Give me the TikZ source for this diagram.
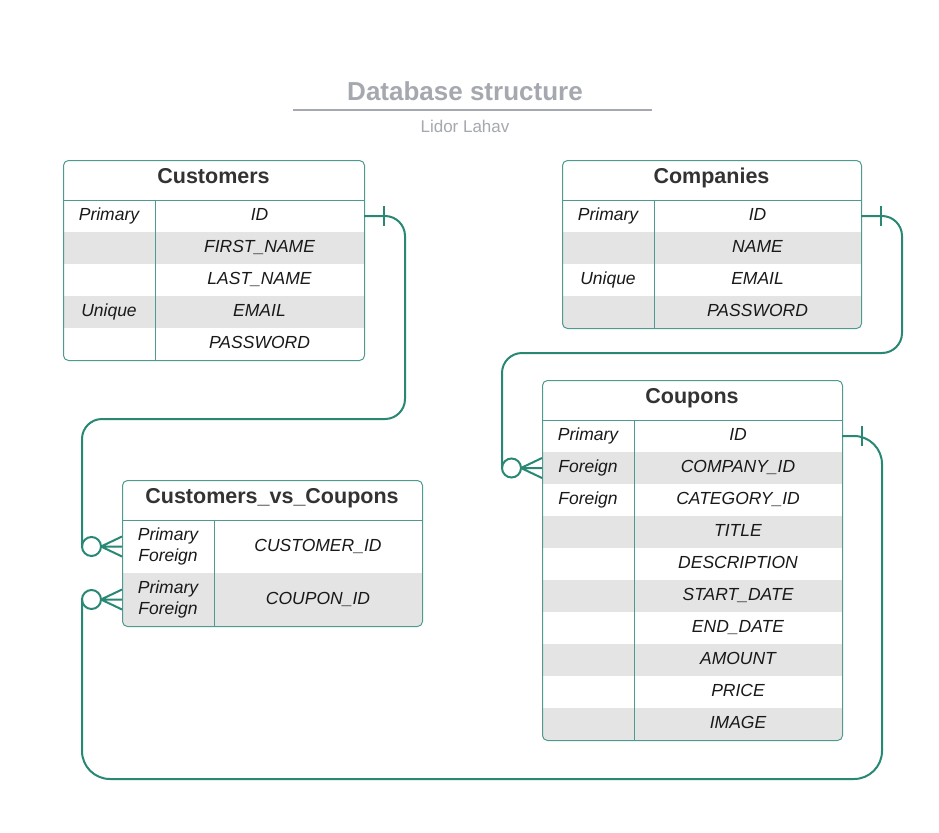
\documentclass[tikz,border=0pt]{standalone}
\usepackage{fontspec}
\setmainfont{Liberation Sans}
\usetikzlibrary{calc}
\definecolor{conncol}{RGB}{40,136,116}
\definecolor{bordercol}{RGB}{78,154,142}
\definecolor{rowgrey}{RGB}{228,228,228}
\definecolor{titlegrey}{RGB}{165,168,174}
\definecolor{headtext}{RGB}{51,51,51}
\tikzset{
  conn/.style={draw=conncol, line width=2pt},
  conncurve/.style={conn, rounded corners=20pt},
  tbl/.style={draw=bordercol, line width=1pt, rounded corners=5pt, inner sep=0pt, anchor=north west},
  tblline/.style={draw=bordercol, line width=1pt},
  mcell/.style={inner sep=0pt, outer sep=0pt, font=\fontsize{17.5}{21}\selectfont\itshape, text=black!90, anchor=north west},
  cell/.style={mcell, text height=12.6pt, text depth=3.6pt},
  greycell/.style={cell, fill=rowgrey},
  mgreycell/.style={mcell, fill=rowgrey},
  head/.style={font=\fontsize{21.5}{24}\selectfont\bfseries, text=headtext, text height=15.5pt, text depth=4.5pt, inner sep=0pt},
}
\newcommand\erow[9]{%
  \node[#1, minimum width={(#4-#3)*1pt}, minimum height={#7*1pt}, align=center] (#2k) at (#3,#6) {#8};
  \node[#1, minimum width={(#5-#4)*1pt}, minimum height={#7*1pt}] (#2) at (#4,#6) {#9};
}
\newcommand\crowfoot[1]{%
  \draw[conn] ([xshift=-30.5pt]#1.west) circle (9.5pt);
  \draw[conn] ([xshift=-21pt]#1.west) -- (#1.west)
              ([xshift=-21pt]#1.west) -- ([yshift=10pt]#1.west)
              ([xshift=-21pt]#1.west) -- ([yshift=-10pt]#1.west);
}
\newcommand\onetick[1]{%
  \draw[conn] ([xshift=20pt,yshift=10pt]#1.east) -- ([xshift=20pt,yshift=-10pt]#1.east);
}
\begin{document}
\begin{tikzpicture}[x=1pt,y=-1pt]
\useasboundingbox (0,0) rectangle (939,832);
\fill[white] (0,0) rectangle (939,832);

% Title
\node[font=\fontsize{26}{30}\selectfont\bfseries, text=titlegrey] (title) at (465,91) {Database structure};
\draw[titlegrey, line width=2pt] (293,110) -- (652,110);
\node[font=\fontsize{17}{20}\selectfont, text=titlegrey] (author) at (465,126) {Lidor Lahav};

% Customers
\begin{scope}
  \clip[rounded corners=5pt] (63,160) rectangle (364,360);
  \erow{cell}{cu1}{63}{155}{364}{200}{32}{Primary}{ID}
  \erow{greycell}{cu2}{63}{155}{364}{232}{32}{}{FIRST\_NAME}
  \erow{cell}{cu3}{63}{155}{364}{264}{32}{}{LAST\_NAME}
  \erow{greycell}{cu4}{63}{155}{364}{296}{32}{Unique}{EMAIL}
  \erow{cell}{cu5}{63}{155}{364}{328}{32}{}{PASSWORD}
\end{scope}
\node[tbl, minimum width=301pt, minimum height=200pt] (cust) at (63,160) {};
\draw[tblline] (63,200) -- (364,200) (155,200) -- (155,360);
\node[head] (custh) at (213.5,178) {Customers};

% Companies
\begin{scope}
  \clip[rounded corners=5pt] (562,160) rectangle (861,328);
  \erow{cell}{co1}{562}{654}{861}{200}{32}{Primary}{ID}
  \erow{greycell}{co2}{562}{654}{861}{232}{32}{}{NAME}
  \erow{cell}{co3}{562}{654}{861}{264}{32}{Unique}{EMAIL}
  \erow{greycell}{co4}{562}{654}{861}{296}{32}{}{PASSWORD}
\end{scope}
\node[tbl, minimum width=299pt, minimum height=168pt] (comp) at (562,160) {};
\draw[tblline] (562,200) -- (861,200) (654,200) -- (654,328);
\node[head] (comph) at (711.5,178) {Companies};

% Coupons
\begin{scope}
  \clip[rounded corners=5pt] (542,380) rectangle (842,740);
  \erow{cell}{cp1}{542}{634}{842}{420}{32}{Primary}{ID}
  \erow{greycell}{cp2}{542}{634}{842}{452}{32}{Foreign}{COMPANY\_ID}
  \erow{cell}{cp3}{542}{634}{842}{484}{32}{Foreign}{CATEGORY\_ID}
  \erow{greycell}{cp4}{542}{634}{842}{516}{32}{}{TITLE}
  \erow{cell}{cp5}{542}{634}{842}{548}{32}{}{DESCRIPTION}
  \erow{greycell}{cp6}{542}{634}{842}{580}{32}{}{START\_DATE}
  \erow{cell}{cp7}{542}{634}{842}{612}{32}{}{END\_DATE}
  \erow{greycell}{cp8}{542}{634}{842}{644}{32}{}{AMOUNT}
  \erow{cell}{cp9}{542}{634}{842}{676}{32}{}{PRICE}
  \erow{greycell}{cp10}{542}{634}{842}{708}{32}{}{IMAGE}
\end{scope}
\node[tbl, minimum width=300pt, minimum height=360pt] (coup) at (542,380) {};
\draw[tblline] (542,420) -- (842,420) (634,420) -- (634,740);
\node[head] (couph) at (692,398) {Coupons};

% Customers_vs_Coupons
\begin{scope}
  \clip[rounded corners=5pt] (122,480) rectangle (422,626);
  \erow{mcell}{cv1}{122}{214}{422}{520}{53}{Primary\\Foreign}{CUSTOMER\_ID}
  \erow{mgreycell}{cv2}{122}{214}{422}{573}{53}{Primary\\Foreign}{COUPON\_ID}
\end{scope}
\node[tbl, minimum width=300pt, minimum height=146pt] (cvc) at (122,480) {};
\draw[tblline] (122,520) -- (422,520) (214,520) -- (214,626);
\node[head] (cvch) at (272,498) {Customers\_vs\_Coupons};

% Connectors
\coordinate (a1) at (405,419);
\coordinate (a2) at ([xshift=-40pt]cv1k.west);
\draw[conncurve] (cu1.east) -| (a1) -| (a2);
\onetick{cu1}
\crowfoot{cv1k}

\coordinate (b1) at (902,353);
\coordinate (b2) at ([xshift=-40pt]cp2k.west);
\draw[conncurve] (co1.east) -| (b1) -| (b2);
\onetick{co1}
\crowfoot{cp2k}

\coordinate (c1) at (882,779);
\coordinate (c2) at ([xshift=-40pt]cv2k.west);
\draw[conn, rounded corners=28pt] (cp1.east) -| (c1) -| (c2);
\onetick{cp1}
\crowfoot{cv2k}
\end{tikzpicture}
\end{document}
